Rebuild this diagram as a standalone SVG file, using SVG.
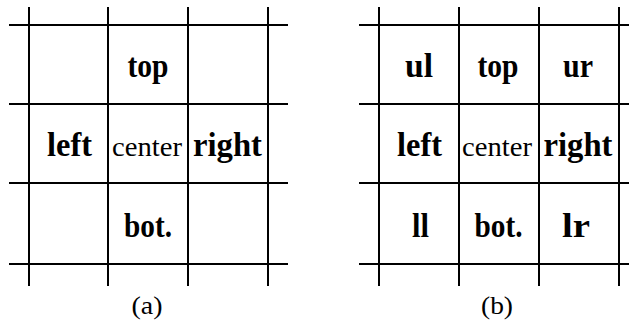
<svg xmlns="http://www.w3.org/2000/svg" width="629" height="320" viewBox="0 0 629 320">
<style>
.g line{stroke:#000;stroke-width:2}
.b{font-family:'Liberation Serif','Times New Roman','DejaVu Serif',serif;font-weight:bold;font-size:33px;text-anchor:middle;fill:#000}
.c{font-family:'Liberation Serif','Times New Roman','DejaVu Serif',serif;font-size:28px;text-anchor:middle;fill:#000}
.cap{font-family:'Liberation Serif','Times New Roman','DejaVu Serif',serif;font-size:25px;text-anchor:middle;fill:#000}
</style>
<rect width="629" height="320" fill="#fff"/>
<g id="grid-a" class="g">
<line x1="29" y1="7" x2="29" y2="286"/>
<line x1="108" y1="7" x2="108" y2="286"/>
<line x1="188" y1="7" x2="188" y2="286"/>
<line x1="268" y1="7" x2="268" y2="286"/>
<line x1="9" y1="25" x2="288" y2="25"/>
<line x1="9" y1="104" x2="288" y2="104"/>
<line x1="9" y1="183" x2="288" y2="183"/>
<line x1="9" y1="264" x2="288" y2="264"/>
</g>
<g id="grid-b" class="g">
<line x1="379" y1="7" x2="379" y2="286"/>
<line x1="459" y1="7" x2="459" y2="286"/>
<line x1="539" y1="7" x2="539" y2="286"/>
<line x1="619" y1="7" x2="619" y2="286"/>
<line x1="359" y1="25" x2="639" y2="25"/>
<line x1="359" y1="104" x2="639" y2="104"/>
<line x1="359" y1="183" x2="639" y2="183"/>
<line x1="359" y1="264" x2="639" y2="264"/>
</g>
<g id="a-top"><text class="b" x="148" y="77" textLength="41" lengthAdjust="spacingAndGlyphs">top</text></g>
<g id="a-left"><text class="b" x="69.5" y="156" textLength="45" lengthAdjust="spacingAndGlyphs">left</text></g>
<g id="a-center"><text class="c" x="147" y="156" textLength="70" lengthAdjust="spacingAndGlyphs">center</text></g>
<g id="a-right"><text class="b" x="227.5" y="156" textLength="69" lengthAdjust="spacingAndGlyphs">right</text></g>
<g id="a-bot"><text class="b" x="148" y="237" textLength="48" lengthAdjust="spacingAndGlyphs">bot.</text></g>
<g id="a-caption"><text class="cap" x="147" y="314" textLength="31" lengthAdjust="spacingAndGlyphs">(a)</text></g>
<g id="b-ul"><text class="b" x="419" y="77" textLength="28" lengthAdjust="spacingAndGlyphs">ul</text></g>
<g id="b-top"><text class="b" x="498" y="77" textLength="41" lengthAdjust="spacingAndGlyphs">top</text></g>
<g id="b-ur"><text class="b" x="578" y="77" textLength="30" lengthAdjust="spacingAndGlyphs">ur</text></g>
<g id="b-left"><text class="b" x="419.5" y="156" textLength="45" lengthAdjust="spacingAndGlyphs">left</text></g>
<g id="b-center"><text class="c" x="497" y="156" textLength="70" lengthAdjust="spacingAndGlyphs">center</text></g>
<g id="b-right"><text class="b" x="578" y="156" textLength="69" lengthAdjust="spacingAndGlyphs">right</text></g>
<g id="b-ll"><text class="b" x="420.5" y="237" textLength="17" lengthAdjust="spacingAndGlyphs">ll</text></g>
<g id="b-bot"><text class="b" x="498.5" y="237" textLength="48" lengthAdjust="spacingAndGlyphs">bot.</text></g>
<g id="b-lr"><text class="b" x="576" y="237" textLength="28" lengthAdjust="spacingAndGlyphs">lr</text></g>
<g id="b-caption"><text class="cap" x="497" y="314" textLength="32" lengthAdjust="spacingAndGlyphs">(b)</text></g>
</svg>
